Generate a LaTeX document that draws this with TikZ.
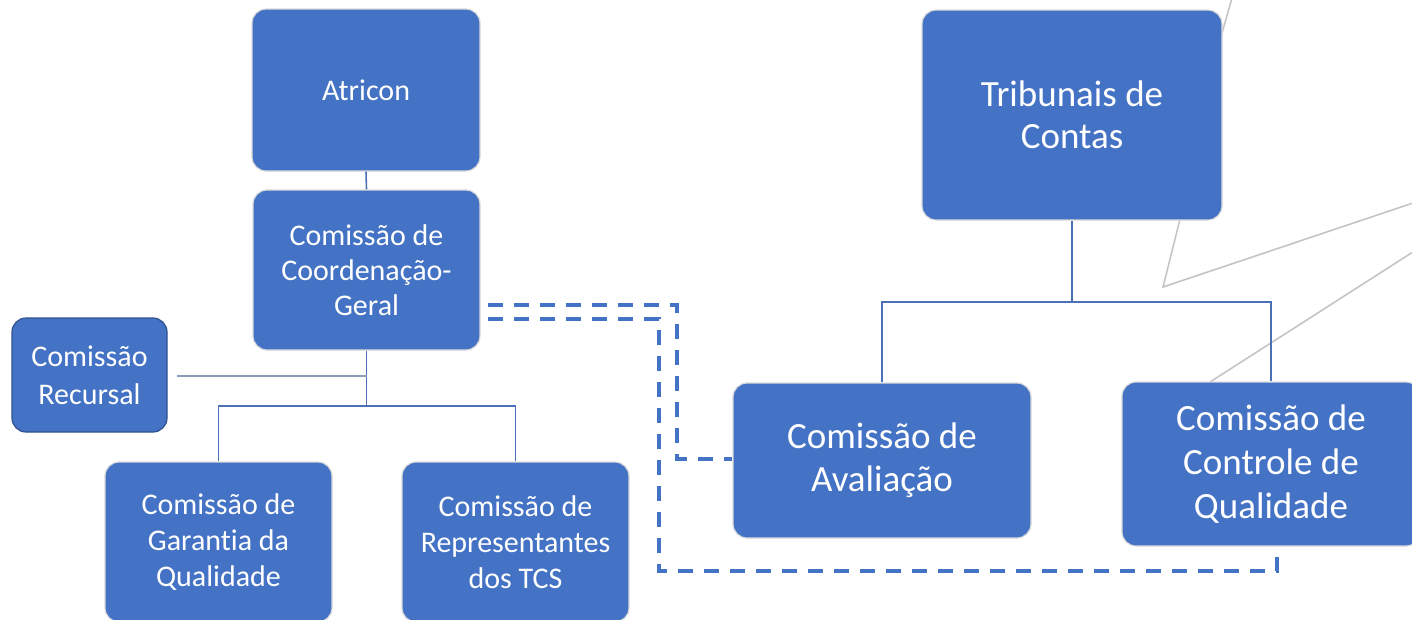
\documentclass[tikz,border=0pt]{standalone}
\usepackage{fontspec}
\setmainfont{Carlito}[Ligatures=NoCommon]
\definecolor{boxblue}{HTML}{4472C4}
\definecolor{lineblue}{HTML}{4A70B8}
\definecolor{recborder}{HTML}{2F528F}
\definecolor{recline}{HTML}{8C9CB8}
\definecolor{greyline}{HTML}{C4C4C4}
\tikzset{
  box/.style={rectangle, rounded corners=14pt, fill=boxblue, draw=black!14, line width=1.2pt,
    text=white, align=center, inner sep=0pt},
  smalltext/.style={font=\fontsize{30}{35}\selectfont},
  bigtext/.style={font=\fontsize{37}{43}\selectfont},
  treeline/.style={draw=lineblue, line width=1.6pt},
  recconn/.style={draw=recline, line width=1.6pt},
  dashconn/.style={draw=boxblue, line width=4.5pt, dash pattern=on 15pt off 11pt},
  greyconn/.style={draw=greyline, line width=1.6pt}
}
\begin{document}
\begin{tikzpicture}[x=1pt,y=-1pt]
\useasboundingbox (0,0) rectangle (1412,619);
\clip (0,0) rectangle (1412,619);
% grey background lines
\coordinate (g1) at (1232,-2);
\coordinate (g2) at (1220,40);
\coordinate (g3) at (1181,215);
\coordinate (g4) at (1163,287);
\coordinate (g5) at (1416,202);
\coordinate (g6) at (1210,382);
\coordinate (g7) at (1416,250);
\draw[greyconn] (g1) -- (g2);
\draw[greyconn] (g3) -- (g4) -- (g5);
\draw[greyconn] (g6) -- (g7);
% nodes
\node[box, smalltext, minimum width=228pt, minimum height=162pt] (atricon) at (366,90) {Atricon};
\node[box, smalltext, minimum width=227pt, minimum height=160pt] (coord) at (366.5,270) {Comissão de\\Coordenação-\\Geral};
\node[box, font=\fontsize{30}{38}\selectfont, draw=recborder, minimum width=155pt, minimum height=114pt] (recursal) at (89.5,375) {Comissão\\Recursal};
\node[box, font=\fontsize{30}{36}\selectfont, minimum width=227pt, minimum height=160pt] (garantia) at (218.5,542) {Comissão de\\Garantia da\\Qualidade};
\node[box, font=\fontsize{30}{36}\selectfont, minimum width=227pt, minimum height=160pt] (repr) at (515.5,542) {Comissão de\\Representantes\\dos TCS};
\node[box, font=\fontsize{37}{42}\selectfont, minimum width=300pt, minimum height=210pt] (trib) at (1072,115) {Tribunais de\\Contas};
\node[box, bigtext, minimum width=298pt, minimum height=155pt] (aval) at (882,460.5) {Comissão de\\Avaliação};
\node[box, font=\fontsize{37}{44}\selectfont, minimum width=298pt, minimum height=164pt] (ccq) at (1271,464) {Comissão de\\Controle de\\Qualidade};
% tree lines left
\coordinate (busL) at (218.5,406);
\coordinate (busR) at (515.5,406);
\coordinate (recStart) at (177,376);
\draw[treeline] (atricon.south) -- (coord.north);
\draw[treeline] (coord.south) -- (coord.south |- busL);
\draw[treeline] (garantia.north) -- (busL) -- (busR) -- (repr.north);
\draw[recconn] (recStart) -- (recStart -| coord.south);
% tree lines right
\coordinate (busT) at (1072,302);
\draw[treeline] (trib.south) -- (busT);
\draw[treeline] (aval.north) -- (aval.north |- busT) -- (ccq.north |- busT) -- (ccq.north);
% dashed connectors
\coordinate (da1) at (488,305);
\coordinate (da2) at (677,305);
\coordinate (da3) at (677,459);
\draw[dashconn] (da1) -- (da2) -- (da3) -- (da3 -| aval.west);
\coordinate (db1) at (488,319);
\coordinate (db2) at (659,319);
\coordinate (db3) at (659,571);
\coordinate (db4) at (1277,571);
\draw[dashconn] (db1) -- (db2) -- (db3) -- (db4) -- (db4 |- ccq.south);
\end{tikzpicture}
\end{document}
